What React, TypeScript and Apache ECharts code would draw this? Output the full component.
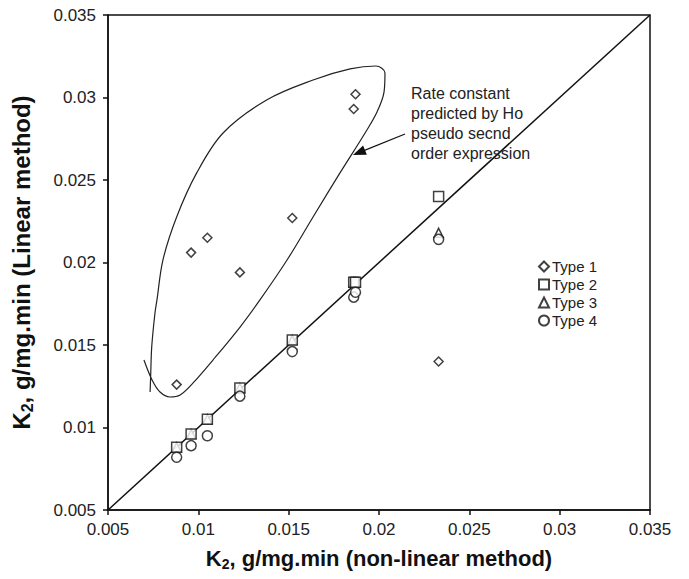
import React, { useEffect, useRef } from "react";
import * as echarts from "echarts";

// Rate constants from the non-linear fit (x) for each experiment
const kNonLinear = [0.0088, 0.0096, 0.0105, 0.0123, 0.0152, 0.0186, 0.0187, 0.0233];

// Rate constants from the linearised forms (y)
const type1 = [0.0126, 0.0206, 0.0215, 0.0194, 0.0227, 0.0293, 0.0302, 0.014];
const type2 = [0.0088, 0.0096, 0.0105, 0.0124, 0.0153, 0.0188, 0.0188, 0.024];
const type3 = [0.0088, 0.0096, 0.0105, 0.0124, 0.0153, 0.0188, 0.0188, 0.0218];
const type4 = [0.0082, 0.0089, 0.0095, 0.0119, 0.0146, 0.0179, 0.0182, 0.0214];

const seriesNames = ["Type 1", "Type 2", "Type 3", "Type 4"];
const axisTicks = [0.005, 0.035, 0.005]; // min, max, interval

// Hand-drawn outline around the Type 1 points (data coordinates)
const loopX = [
  0.00733, 0.00736, 0.00742, 0.0076, 0.00771, 0.00804, 0.0088, 0.00991, 0.01137,
  0.01378, 0.01635, 0.0184, 0.01983, 0.02033, 0.02028, 0.01989, 0.01923, 0.01784,
  0.01635, 0.01491, 0.01341, 0.01231, 0.01081, 0.00971, 0.00899, 0.00843, 0.00788,
  0.00744, 0.00699,
];
const loopY = [
  0.01215, 0.01306, 0.01488, 0.01694, 0.01773, 0.02015, 0.02276, 0.02543, 0.02785,
  0.02985, 0.03106, 0.03173, 0.03191, 0.03149, 0.03034, 0.02912, 0.02785, 0.02543,
  0.02276, 0.02015, 0.01773, 0.01609, 0.01409, 0.0127, 0.01197, 0.01185, 0.01215,
  0.01288, 0.01409,
];

// Leader arrow from the note to the outline
const arrowFrom = [0.02144, 0.02779];
const arrowTo = [0.01889, 0.02666];

const noteLines = [
  "Rate constant",
  "predicted by Ho",
  "pseudo secnd",
  "order expression",
];

const FONT = "'Liberation Sans', Arial, sans-serif";

const makeRich = (size: number) => ({
  k: { fontSize: size, fontWeight: "bold", fontFamily: FONT, color: "#111", lineHeight: size + 4 },
  s: {
    fontSize: Math.round(size * 0.65),
    fontWeight: "bold",
    fontFamily: FONT,
    color: "#111",
    lineHeight: Math.round(size * 0.45),
    verticalAlign: "bottom",
  },
});

export default function App() {
  const ref = useRef<HTMLDivElement>(null);

  useEffect(() => {
    if (!ref.current) return;
    const chart = echarts.init(ref.current, null, { renderer: "svg" });

    const pairs = (ys: number[]) => kNonLinear.map((x, i) => [x, ys[i]]);
    const markerStyle = { color: "#fff", borderColor: "#111", borderWidth: 1.5 };

    const axisCommon = {
      type: "value" as const,
      min: axisTicks[0],
      max: axisTicks[1],
      interval: axisTicks[2],
      nameLocation: "middle" as const,
      axisLine: { show: true, onZero: false, lineStyle: { color: "#111", width: 1.5 } },
      axisTick: { show: true, inside: false, length: 5, lineStyle: { color: "#111", width: 1.5 } },
      splitLine: { show: false },
    };

    chart.setOption({
      animation: false,
      backgroundColor: "#fff",
      grid: {
        left: 108,
        top: 15,
        width: 542,
        height: 495,
        show: true,
        borderColor: "#111",
        borderWidth: 1.5,
        backgroundColor: "transparent",
      },
      xAxis: {
        ...axisCommon,
        name: "{k|K}{s|2}{k|, g/mg.min (non-linear method)}",
        nameGap: 35,
        nameTextStyle: { rich: makeRich(22) },
        axisLabel: { fontSize: 17, fontFamily: FONT, color: "#222", margin: 11 },
      },
      yAxis: {
        ...axisCommon,
        name: "{k|K}{s|2}{k|, g/mg.min (Linear method)}",
        nameGap: 73,
        nameRotate: 90,
        nameTextStyle: { rich: makeRich(24) },
        axisLabel: { fontSize: 17, fontFamily: FONT, color: "#222", margin: 12 },
      },
      legend: {
        data: seriesNames,
        orient: "vertical",
        left: 533,
        top: 254,
        itemWidth: 10,
        itemHeight: 10,
        itemGap: 3,
        textStyle: { fontSize: 15, fontFamily: FONT, color: "#222", padding: [0, 0, 0, -2] },
      },
      series: [
        {
          name: "1:1",
          type: "line",
          data: [
            [axisTicks[0], axisTicks[0]],
            [axisTicks[1], axisTicks[1]],
          ],
          showSymbol: false,
          symbol: "none",
          lineStyle: { color: "#111", width: 1.5 },
          z: 1,
          silent: true,
        },
        {
          name: "outline",
          type: "line",
          data: loopX.map((x, i) => [x, loopY[i]]),
          smooth: 0.35,
          symbol: "none",
          lineStyle: { color: "#222", width: 1.2 },
          z: 1,
          silent: true,
          markLine: {
            silent: true,
            symbol: ["none", "triangle"],
            symbolSize: [10, 13],
            label: { show: false },
            lineStyle: { color: "#111", width: 1.2, type: "solid" },
            data: [[{ coord: arrowFrom }, { coord: arrowTo }]],
          },
        },
        {
          name: seriesNames[0],
          type: "scatter",
          data: pairs(type1),
          symbol: "diamond",
          symbolSize: 9,
          itemStyle: markerStyle,
          z: 3,
        },
        {
          name: seriesNames[2],
          type: "scatter",
          data: pairs(type3),
          symbol: "triangle",
          symbolSize: 9,
          itemStyle: markerStyle,
          z: 2,
        },
        {
          name: seriesNames[1],
          type: "scatter",
          data: pairs(type2),
          symbol: "rect",
          symbolSize: 10,
          itemStyle: markerStyle,
          z: 4,
        },
        {
          name: seriesNames[3],
          type: "scatter",
          data: pairs(type4),
          symbol: "circle",
          symbolSize: 10,
          itemStyle: markerStyle,
          z: 5,
        },
      ],
      graphic: [
        {
          type: "text",
          left: 411,
          top: 83,
          style: {
            text: noteLines.join("\n"),
            fontSize: 16,
            lineHeight: 20,
            fontFamily: FONT,
            fill: "#222",
          },
          z: 10,
        },
      ],
    });

    return () => chart.dispose();
  }, []);

  return (
    <div
      ref={ref}
      style={{ position: "fixed", left: 0, top: 0, width: 689, height: 579 }}
    />
  );
}
